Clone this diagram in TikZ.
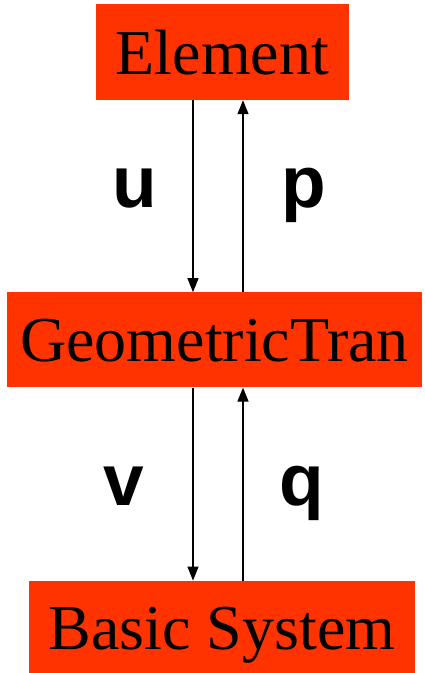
\documentclass[tikz,border=0pt]{standalone}
\usepackage{fontspec}
\setmainfont{Liberation Serif}
\newfontfamily\lblfont{Liberation Sans}
\usetikzlibrary{arrows.meta,calc,positioning}
\definecolor{BoxRed}{HTML}{FF3300}

\begin{document}
\begin{tikzpicture}[x=1pt,y=-1pt,node distance=192pt,
    box/.style={fill=BoxRed,inner sep=0pt,text height=44pt,text depth=0pt,
                font=\fontsize{64}{70}\selectfont},
    arr/.style={-{Triangle[length=14pt,width=11pt]},line width=1.2pt,black},
    lbl/.style={anchor=base,font=\lblfont\bfseries\fontsize{73}{80}\selectfont}]
    \useasboundingbox (0,0) rectangle (424,673);
    \node[box,minimum width=253pt,minimum height=96pt] (elem) at (222.5,52) {Element};
    \node[box,minimum width=415pt,minimum height=95pt,below=192pt of elem,xshift=-8pt] (geo) {GeometricTran};
    \node[box,minimum width=386pt,minimum height=93pt,below=193pt of geo,xshift=7.5pt] (basic) {Basic System};
    \coordinate (lx) at (193,0);
    \coordinate (rx) at (243,0);
    \draw[arr] (elem.south -| lx)--(geo.north -| lx);
    \draw[arr] (geo.north -| rx)--(elem.south -| rx);
    \draw[arr] (geo.south -| lx)--(basic.north -| lx);
    \draw[arr] (basic.north -| rx)--(geo.south -| rx);
    \node[lbl] (u) at (134.5,207) {u};
    \node[lbl] (p) at (303.5,207) {p};
    \node[lbl] (v) at (124,505) {v};
    \node[lbl] (q) at (301.5,505) {q};
  \end{tikzpicture}
\end{document}
